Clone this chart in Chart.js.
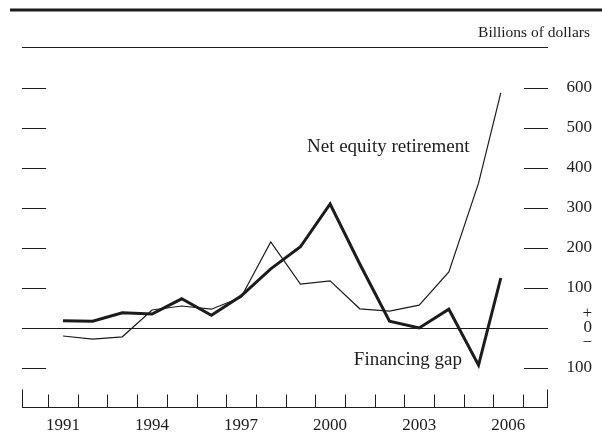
<!DOCTYPE html>
<html>
<head>
<meta charset="utf-8">
<script src="https://cdn.jsdelivr.net/npm/chart.js@4"></script>
<style>
  html, body { margin: 0; padding: 0; background: #fff; }
  #wrap { width: 602px; height: 434px; }
</style>
</head>
<body>
<div id="wrap"><canvas id="gapChart"></canvas></div>
<script>
// values, billions of dollars
const years = [1991, 1992, 1993, 1994, 1995, 1996, 1997, 1998, 1999, 2000, 2001, 2002, 2003, 2004, 2005, 2006];
// each point sits mid-period; 2006 only covers the first half of the year
const xPositions = [1991.5, 1992.5, 1993.5, 1994.5, 1995.5, 1996.5, 1997.5, 1998.5, 1999.5, 2000.5, 2001.5, 2002.5, 2003.5, 2004.5, 2005.5, 2006.25];
const financingGap = [18, 17, 38, 35, 73, 32, 80, 148, 203, 310, 160, 17, 0, 47, -93, 125];
const netEquityRetirement = [-20, -28, -22, 45, 55, 47, 77, 215, 110, 118, 48, 42, 57, 140, 362, 588];
const yTicks = [-100, 0, 100, 200, 300, 400, 500, 600];
const xLabelYears = [1991, 1994, 1997, 2000, 2003, 2006];
const xTickYears = [1991, 1992, 1993, 1994, 1995, 1996, 1997, 1998, 1999, 2000, 2001, 2002, 2003, 2004, 2005, 2006, 2007];

const FONT = "'Liberation Serif', 'Times New Roman', serif";
const INK = '#1c1c1c';
Chart.defaults.font.family = FONT;
Chart.defaults.color = INK;

const toPoints = (vals) => vals.map((v, i) => ({ x: xPositions[i], y: v }));

// rules, dashes, axis ticks and series labels in the print style
const framePlugin = {
    id: 'frame',
    beforeDatasetsDraw(chart) {
        const { ctx, chartArea: a, scales: { x, y } } = chart;
        ctx.save();
        ctx.strokeStyle = INK;

        // thick rule at the very top
        ctx.lineWidth = 3;
        ctx.beginPath(); ctx.moveTo(10, 10); ctx.lineTo(602, 10); ctx.stroke();

        // thin header rule
        ctx.lineWidth = 1;
        ctx.beginPath(); ctx.moveTo(a.left, a.top - 0.5); ctx.lineTo(a.right, a.top - 0.5); ctx.stroke();

        // short dashes on both sides, full line at zero
        yTicks.forEach(v => {
            const py = Math.round(y.getPixelForValue(v)) + 0.5;
            ctx.beginPath();
            if (v === 0) {
                ctx.moveTo(a.left, py); ctx.lineTo(a.right, py);
            } else {
                ctx.moveTo(a.left, py); ctx.lineTo(a.left + 24, py);
                ctx.moveTo(a.right - 24, py); ctx.lineTo(a.right, py);
            }
            ctx.stroke();
        });

        // x axis line with upward ticks at year boundaries
        const by = Math.round(a.bottom) - 0.5;
        ctx.beginPath();
        ctx.moveTo(a.left, by); ctx.lineTo(a.right, by);
        ctx.moveTo(a.left + 0.5, by); ctx.lineTo(a.left + 0.5, by - 18);
        ctx.moveTo(a.right - 0.5, by); ctx.lineTo(a.right - 0.5, by - 18);
        xTickYears.forEach(yr => {
            const px = Math.round(x.getPixelForValue(yr)) + 0.5;
            ctx.moveTo(px, by); ctx.lineTo(px, by - 13);
        });
        ctx.stroke();

        // texts
        ctx.fillStyle = INK;
        ctx.textBaseline = 'middle';
        ctx.font = '15.5px ' + FONT;
        ctx.textAlign = 'right';
        ctx.fillText('Billions of dollars', 590, 33);
        ctx.font = '19px ' + FONT;
        ctx.textAlign = 'left';
        ctx.fillText('Net equity retirement', 307, 147);
        ctx.textAlign = 'right';
        ctx.fillText('Financing gap', 462, 360);
        ctx.restore();
    }
};

new Chart(document.getElementById('gapChart'), {
    type: 'line',
    data: {
        datasets: [
            {
                label: 'Net equity retirement',
                data: toPoints(netEquityRetirement),
                borderColor: INK,
                borderWidth: 1.2,
                pointRadius: 0,
                tension: 0
            },
            {
                label: 'Financing gap',
                data: toPoints(financingGap),
                borderColor: INK,
                borderWidth: 3,
                pointRadius: 0,
                tension: 0
            }
        ]
    },
    options: {
        responsive: true,
        maintainAspectRatio: false,
        animation: false,
        layout: { padding: { left: 22, top: 48, right: 10, bottom: 0 } },
        plugins: {
            legend: { display: false },
            tooltip: { enabled: false }
        },
        scales: {
            x: {
                type: 'linear',
                min: 1990.12,
                max: 2007.84,
                grid: { display: false, drawTicks: false },
                border: { display: false },
                afterBuildTicks: (s) => { s.ticks = xLabelYears.map(yr => ({ value: yr + 0.5 })); },
                afterFit: (s) => { s.height = 26; },
                ticks: {
                    autoSkip: false,
                    maxRotation: 0,
                    padding: 7,
                    font: { size: 17 },
                    callback: (v) => String(Math.floor(v))
                }
            },
            y: {
                position: 'right',
                min: -200,
                max: 700,
                grid: { display: false, drawTicks: false },
                border: { display: false },
                afterBuildTicks: (s) => { s.ticks = yTicks.map(v => ({ value: v })); },
                afterFit: (s) => { s.width = 44; },
                ticks: {
                    crossAlign: 'far',
                    padding: 7,
                    font: (c) => ({ size: 17, lineHeight: c.tick && c.tick.value === 0 ? 0.85 : 1.2 }),
                    callback: (v) => v === 0 ? ['+', '0', '\u2212'] : String(Math.abs(v))
                }
            }
        }
    },
    plugins: [framePlugin]
});
</script>
</body>
</html>
